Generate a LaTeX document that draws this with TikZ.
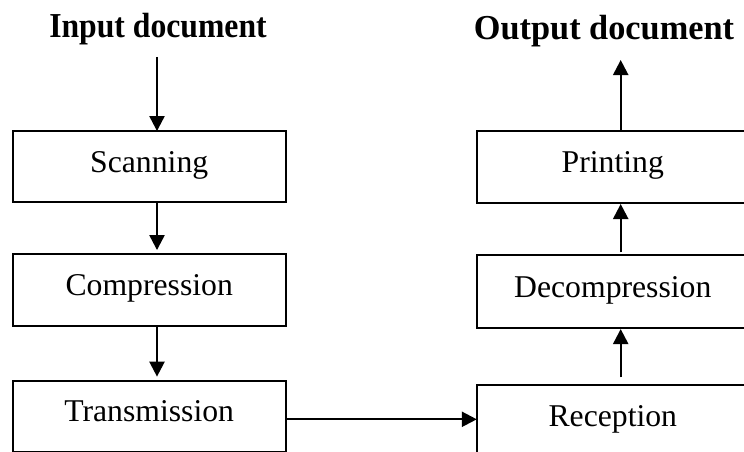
\documentclass[tikz,border=0pt]{standalone}
\usepackage{graphicx}
\usepackage{fontspec}
\setmainfont{Liberation Serif}
\usetikzlibrary{arrows.meta}
\begin{document}
\begin{tikzpicture}[x=1pt,y=-1pt,
  stepbox/.style={draw,line width=1.9pt,rectangle,inner sep=0pt,outer sep=0pt,
    minimum width=273pt,font=\fontsize{31.7}{38}\selectfont,
    text height=20pt,text depth=9pt},
  flow/.style={line width=2.3pt,-{Triangle[length=15pt,width=15pt]}},
  title/.style={font=\fontsize{35}{42}\selectfont\bfseries,anchor=base,inner sep=0pt}]
\useasboundingbox (0,0) rectangle (744,452);
% left column
\node[stepbox,minimum height=71.3pt] (scan) at (149.2,166.7) {Scanning};
\node[stepbox,minimum height=72.3pt] (comp) at (149.2,290.2) {Compression};
\node[stepbox,minimum height=71.5pt] (trans) at (149.2,416.4) {Transmission};
% right column
\node[stepbox,minimum width=272pt,minimum height=72pt] (print) at (612.8,167) {Printing};
\node[stepbox,minimum width=272pt,minimum height=72.7pt] (dec) at (612.8,291.7) {Decompression};
\node[stepbox,minimum width=272pt,minimum height=72pt] (rec) at (612.8,421.3) {Reception};
% titles
\node[title] (intitle) at (158,37.3) {\scalebox{0.905}[1]{Input document}};
\node[title] (outtitle) at (604,39.5) {\scalebox{0.98}[1]{Output document}};
% helper coordinates
\coordinate (colL) at (157,0);
\coordinate (colR) at (620.7,0);
\coordinate (inStart) at (157,57);
\coordinate (outEnd) at (620.7,60);
\coordinate (hy) at (0,419.3);
% connectors
\draw[flow] (inStart) -- (scan.north -| colL);
\draw[flow,shorten >=4pt] (scan.south -| colL) -- (comp.north -| colL);
\draw[flow,shorten >=4pt] (comp.south -| colL) -- (trans.north -| colL);
\draw[flow] (trans.east |- hy) -- (rec.west |- hy);
\draw[flow,shorten <=8pt,shorten >=1pt] (rec.north -| colR) -- (dec.south -| colR);
\draw[flow,shorten <=3pt,shorten >=1pt] (dec.north -| colR) -- (print.south -| colR);
\draw[flow] (print.north -| colR) -- (outEnd);
\end{tikzpicture}
\end{document}
